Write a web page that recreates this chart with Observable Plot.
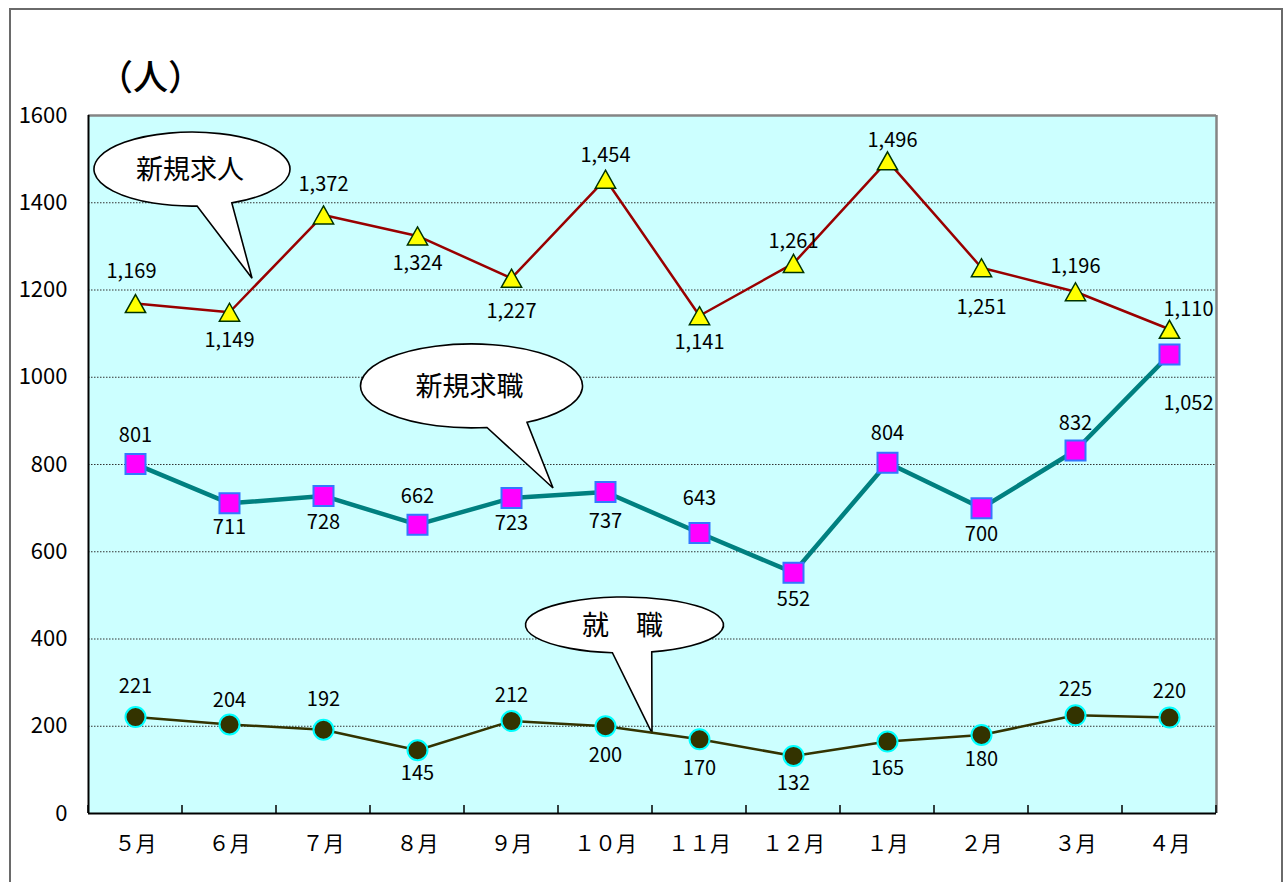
<!DOCTYPE html>
<html><head><meta charset="utf-8">
<script src="https://cdn.jsdelivr.net/npm/d3@7"></script>
<script src="https://cdn.jsdelivr.net/npm/@observablehq/plot@0.6"></script>
<style>
body{margin:0;background:#fff;font-family:"Noto Sans CJK JP",sans-serif;}
#wrap{position:relative;width:1287px;height:882px;overflow:hidden;background:#fff;}
#border{position:absolute;left:9px;top:8px;width:1270px;height:900px;border:2px solid #6a6a6a;border-bottom:none;pointer-events:none;}
#title{position:relative;height:80px;}
#title span{position:absolute;left:98px;top:55px;font-size:35px;line-height:40px;color:#000;font-weight:500;}
svg{display:block;}
</style></head>
<body>
<div id="wrap"><div id="title"><span>（人）</span></div><div id="border"></div></div>
<script>
// ---- data ----
const months = ["５月","６月","７月","８月","９月","１０月","１１月","１２月","１月","２月","３月","４月"];
const newOffers = [1169,1149,1372,1324,1227,1454,1141,1261,1496,1251,1196,1110];
const newSeekers = [801,711,728,662,723,737,643,552,804,700,832,1052];
const placements = [221,204,192,145,212,200,170,132,165,180,225,220];
const yTicks = [0,200,400,600,800,1000,1200,1400,1600];

// label placement offsets (px)
const offersDy = [-32,28,-30,28,33,-24,27,-22,-20,40,-25,-20];
const offersDx = [-4,0,0,0,0,0,0,0,5,0,0,19];
const seekersDy = [-28,24,27,-28,26,30,-34,27,-29,26,-27,49];
const seekersDx = [0,0,0,0,0,0,0,0,0,0,0,19];
const placeDy = [-30,-24,-30,23,-25,29,29,28,27,25,-26,-26];
const placeDx = [0,0,0,0,0,0,0,0,0,0,0,0];

// callout annotations (data coordinates: month index, value)
const callouts = [
  {text:"新規求人", cx:0.606, cy:1476, rx:98, ry:37, a1:66, a2:87, tx:1.245, ty:1226},
  {text:"新規求職", cx:3.58, cy:979, rx:111, ry:42, a1:60, a2:82, tx:4.447, ty:745},
  {text:"就　職", cx:5.207, cy:431, rx:99, ry:28, a1:74, a2:97, tx:5.5, ty:183}
];

const idx = d3.range(months.length);
const fmt = d3.format(",");

// custom symbols centered on their bounding box
const triSym = {draw(ctx, size){ const r = Math.sqrt(size/Math.PI); const w = 1.35*r, h = 1.2*r;
  ctx.moveTo(0,-h); ctx.lineTo(w,h); ctx.lineTo(-w,h); ctx.closePath(); }};
const sqSym = {draw(ctx, size){ const r = Math.sqrt(size/Math.PI);
  ctx.moveTo(-r,-r); ctx.lineTo(r,-r); ctx.lineTo(r,r); ctx.lineTo(-r,r); ctx.closePath(); }};

function labels(values, dxs, dys){
  return idx.map(i => Plot.text([i], {x: d=>d, y: d=>values[d], text: d=>fmt(values[d]),
    dx: dxs[i], dy: dys[i], fontSize: 20, fill: "#000"}));
}

function calloutMark(index, scales){
  const {x, y} = scales;
  const g = d3.create("svg:g");
  for (const c of callouts){
    const X = x(c.cx), Y = y(c.cy);
    const p = a => [X + c.rx*Math.cos(a*Math.PI/180), Y + c.ry*Math.sin(a*Math.PI/180)];
    const [x1,y1] = p(c.a1), [x2,y2] = p(c.a2);
    const d = `M${x2},${y2}A${c.rx},${c.ry} 0 1 1 ${x1},${y1}L${x(c.tx)},${y(c.ty)}Z`;
    g.append("path").attr("d", d).attr("fill","#fff").attr("stroke","#000").attr("stroke-width",1.6).attr("stroke-linejoin","miter");
    g.append("text").attr("x", X-2).attr("y", Y).attr("text-anchor","middle").attr("dy","0.36em")
      .attr("font-size",27).attr("fill","#000").text(c.text);
  }
  return g.node();
}

function boundaryTicks(index, scales){
  const {x, y} = scales;
  const g = d3.create("svg:g");
  const b = d3.range(months.length+1).map(i => i-0.5);
  g.selectAll("line").data(b).join("line")
    .attr("x1", d=>x(d)).attr("x2", d=>x(d)).attr("y1", y(0)).attr("y2", y(0)-8)
    .attr("stroke","#000").attr("stroke-width",1.5);
  return g.node();
}

const chart = Plot.plot({
  width: 1287, height: 802,
  marginTop: 35, marginLeft: 88, marginRight: 71, marginBottom: 69,
  x: {domain: [-0.5, months.length-0.5]},
  y: {domain: [0, 1600]},
  style: {fontFamily: '"Noto Sans CJK JP", sans-serif', color: "#000", background: "transparent"},
  marks: [
    Plot.frame({fill: "#CCFFFF", stroke: null}),
    Plot.ruleY(yTicks.filter(v => v>0 && v<1600), {stroke:"#333", strokeWidth:1, strokeDasharray:"1.5,1.5"}),
    Plot.ruleY([1600], {stroke:"#858585", strokeWidth:2.5}),
    Plot.ruleX([months.length-0.5], {stroke:"#858585", strokeWidth:2.5}),
    Plot.ruleX([-0.5], {stroke:"#000", strokeWidth:2}),
    Plot.ruleY([0], {stroke:"#000", strokeWidth:2}),
    boundaryTicks,
    Plot.axisY(yTicks, {tickSize:0, tickPadding:21, fontSize:22, tickFormat: d=>String(d)}),
    Plot.axisX(idx, {tickSize:0, tickPadding:23, fontSize:21, tickFormat: i=>months[i]}),
    calloutMark,
    Plot.lineY(newOffers, {x: (d,i)=>i, y: d=>d, stroke:"#990000", strokeWidth:2.5}),
    Plot.lineY(newSeekers, {x: (d,i)=>i, y: d=>d, stroke:"#008080", strokeWidth:4.5}),
    Plot.lineY(placements, {x: (d,i)=>i, y: d=>d, stroke:"#333300", strokeWidth:2.5}),
    Plot.dot(newOffers, {x: (d,i)=>i, y: d=>d, symbol: triSym, r: 7.5, fill:"#FFFF00", stroke:"#003300", strokeWidth:1.5}),
    Plot.dot(newSeekers, {x: (d,i)=>i, y: d=>d, symbol: sqSym, r: 10, fill:"#FF00FF", stroke:"#3377FF", strokeWidth:2}),
    Plot.dot(placements, {x: (d,i)=>i, y: d=>d, r: 10, fill:"#333300", stroke:"#00FFFF", strokeWidth:2}),
    ...labels(newOffers, offersDx, offersDy),
    ...labels(newSeekers, seekersDx, seekersDy),
    ...labels(placements, placeDx, placeDy)
  ]
});
document.getElementById("wrap").insertBefore(chart, document.getElementById("border"));
</script>
</body></html>
